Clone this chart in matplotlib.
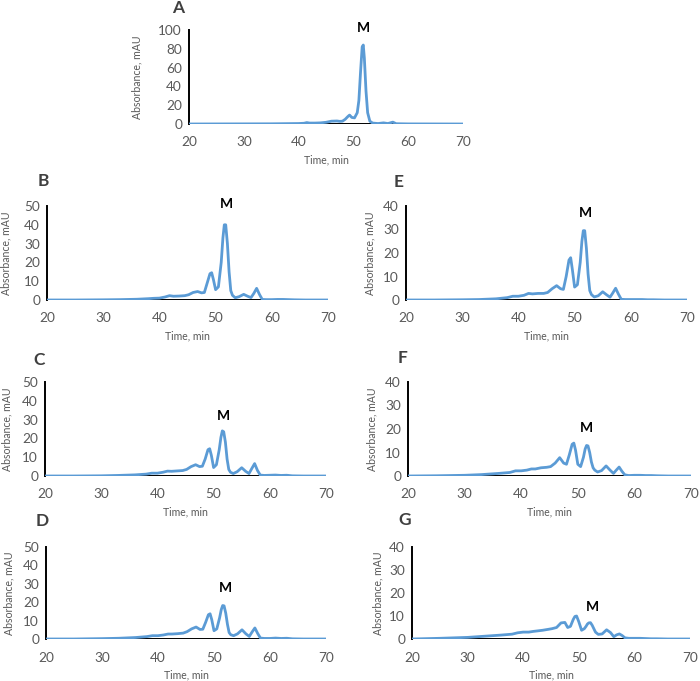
import matplotlib
matplotlib.use("Agg")
import matplotlib.pyplot as plt

# ---------------- data ----------------
time_A = [20, 35, 40, 41, 41.5, 42, 43, 44, 45, 46, 47, 47.5, 48, 48.5, 49, 49.3,
          49.7, 50.2, 50.7, 51.0, 51.3, 51.6, 51.8, 52.0, 52.3, 52.6, 53.0, 53.5,
          54.5, 55.5, 56.3, 57.2, 57.8, 60, 70]
abs_A = [0, 0.2, 0.5, 0.8, 1.5, 1.0, 1.0, 1.2, 1.8, 3.0, 3.2, 2.8, 3.0, 5.0, 8.0, 9.5,
         7.0, 6.5, 12, 25, 55, 82, 84, 70, 35, 12, 3, 1,
         0.5, 1.2, 0.5, 2.0, 0.3, 0.1, 0]

time = [20, 25, 30, 33, 36, 38, 39, 40, 41, 41.8, 42.5, 43.5, 44.5, 45.2, 46, 46.8,
        47.5, 48, 48.5, 49, 49.3, 49.6, 50, 50.5, 51, 51.3, 51.55, 51.8, 52.1, 52.4, 52.7, 53,
        53.5, 54.2, 55, 55.7, 56.3, 56.8, 57.3, 57.8, 58.3, 59, 60, 61, 62, 63, 64, 66, 70]

abs_B = [0, 0, 0.1, 0.2, 0.4, 0.7, 0.9, 1.0, 1.6, 2.3, 2.0, 2.1, 2.3, 2.8, 4.0, 4.5,
         3.8, 4.0, 9, 14, 14.5, 11, 5.5, 7, 20, 33, 40, 40, 30, 15, 5, 2.5,
         1.2, 1.8, 3.0, 2.0, 1.3, 3.5, 6.2, 3.0, 0.3, 0.2, 0.2, 0.3, 0.3, 0.2, 0.1, 0, 0]
abs_E = [0, 0, 0.1, 0.2, 0.5, 1.0, 1.6, 1.6, 2.0, 2.8, 2.6, 2.8, 2.8, 3.2, 4.8, 6.1,
         4.8, 4.5, 10, 17, 18, 13, 5.5, 6.5, 16, 25, 29.5, 29.5, 22, 11, 4, 2.3,
         1.3, 1.8, 3.5, 2.2, 1.2, 3.0, 5.0, 2.5, 0.3, 0.2, 0.2, 0.2, 0.2, 0.1, 0.1, 0, 0]
abs_C = [0, 0, 0.1, 0.3, 0.6, 1.0, 1.5, 1.5, 2.0, 2.6, 2.5, 2.7, 2.9, 3.5, 5.0, 6.0,
         5.0, 5.2, 9, 14, 14.5, 11, 4.5, 6, 14, 20.5, 24, 23.5, 18, 9, 3.5, 2.0,
         1.3, 2.3, 4.4, 2.5, 1.3, 4.0, 6.6, 3.0, 0.5, 0.3, 0.4, 0.5, 0.3, 0.4, 0.1, 0, 0]
abs_F = [0, 0.1, 0.3, 0.6, 1.1, 1.5, 2.2, 2.2, 2.5, 3.0, 3.0, 3.5, 3.7, 4.0, 5.5, 7.8,
         5.5, 5.0, 9, 13.5, 14, 11, 5.0, 4.0, 8, 11.5, 13, 12.8, 10, 6, 3.5, 2.5,
         1.7, 2.3, 4.3, 2.5, 1.1, 2.5, 3.8, 2.0, 0.5, 0.2, 0.3, 0.3, 0.2, 0.2, 0.1, 0, 0]
abs_D = [0, 0, 0.2, 0.4, 0.8, 1.3, 1.8, 1.8, 2.2, 2.7, 2.7, 2.9, 3.2, 4.0, 5.5, 6.5,
         5.2, 5.3, 9, 13.2, 13.7, 10.5, 4.5, 5.5, 11.5, 16, 18.2, 18, 14, 8, 3.5, 2.3,
         1.8, 2.8, 5.0, 2.8, 1.4, 3.8, 6.0, 3.0, 0.5, 0.3, 0.3, 0.5, 0.3, 0.4, 0.1, 0, 0]
abs_G = [0, 0.3, 0.7, 1.2, 1.7, 2.1, 2.7, 3.0, 3.0, 3.3, 3.5, 3.8, 4.2, 4.5, 5.0, 7.0,
         7.2, 5.0, 5.5, 8.5, 9.8, 10, 7.5, 3.8, 4.5, 5.5, 6.5, 7.0, 7.1, 6, 4.5, 3,
         2.0, 2.2, 4.0, 2.8, 1.0, 1.8, 2.2, 1.5, 0.5, 0.3, 0.3, 0.3, 0.2, 0.1, 0.1, 0, 0]

baseline_t = [20, 58.5]
baseline_y = [0, 0]

x_ticks = [20, 30, 40, 50, 60, 70]
panel_letters = ["A", "B", "E", "C", "F", "D", "G"]
y_max = [100, 50, 40, 50, 40, 50, 40]
y_step = [20, 10, 10, 10, 10, 10, 10]
m_pos = [(51.75, 102), (52.0, 51), (51.85, 37), (51.7, 32), (51.6, 20.4), (52.1, 27.7), (52.4, 13.9)]

# ---------------- layout (pixels) ----------------
W, H = 700, 681
boxes = [(189, 463, 30, 124), (47, 328, 206, 300), (406, 687, 206, 300),
         (45, 326, 382, 476), (408, 691, 382, 476), (46, 326, 547, 639),
         (412, 690, 547, 639)]
letter_px = [(178, 8), (43, 181), (399, 182), (39, 360), (403, 358), (42, 521), (405, 520)]
ylabel_dx = [52, 41, 36, 38, 36, 37, 34]

series = [(time_A, abs_A), (time, abs_B), (time, abs_E), (time, abs_C),
          (time, abs_F), (time, abs_D), (time, abs_G)]

plt.rcParams['font.family'] = ['Lato', 'DejaVu Sans']
gray = '#595959'
blue = '#5B9BD5'

fig = plt.figure(figsize=(W / 100, H / 100), dpi=100)
fig.patch.set_facecolor('white')

for i, (l, r, t, b) in enumerate(boxes):
    ax = fig.add_axes([l / W, 1 - b / H, (r - l) / W, (b - t) / H])
    tx, ty = series[i]
    ax.plot(baseline_t, baseline_y, color='black', lw=1.4, zorder=2, solid_capstyle='butt')
    ax.plot(tx, ty, color=blue, lw=2.0, zorder=3, solid_joinstyle='round')
    ax.set_xlim(20, 70)
    ax.set_ylim(0, y_max[i])
    ax.set_xticks(x_ticks)
    ax.set_yticks(list(range(0, y_max[i] + 1, y_step[i])))
    ax.tick_params(length=0, labelsize=9.8, labelcolor=gray, pad=5)
    ax.tick_params(axis='x', pad=9)
    for s in ['top', 'right', 'bottom']:
        ax.spines[s].set_visible(False)
    ax.spines['left'].set_color('black')
    ax.spines['left'].set_linewidth(1.4)
    ax.set_facecolor('none')
    for lab in ax.get_xticklabels() + ax.get_yticklabels():
        lab.set_clip_on(False)
    ax.text(m_pos[i][0], m_pos[i][1], "M", ha='center', va='center',
            fontsize=10, fontweight='bold', color='black', clip_on=False)
    cx = (l + r) / 2
    fig.text(cx / W, 1 - (b + 36) / H, "Time, min", ha='center', va='center',
             fontsize=7.6, color=gray)
    fig.text((l - ylabel_dx[i]) / W, 1 - ((t + b) / 2) / H, "Absorbance, mAU",
             ha='center', va='center', rotation=90, fontsize=7.6, color=gray)
    lx, ly = letter_px[i]
    fig.text(lx / W, 1 - ly / H, panel_letters[i], ha='center', va='center',
             fontsize=12.5, fontweight='bold', color='#404040')

fig.savefig('out.png', dpi=100, facecolor='white')
